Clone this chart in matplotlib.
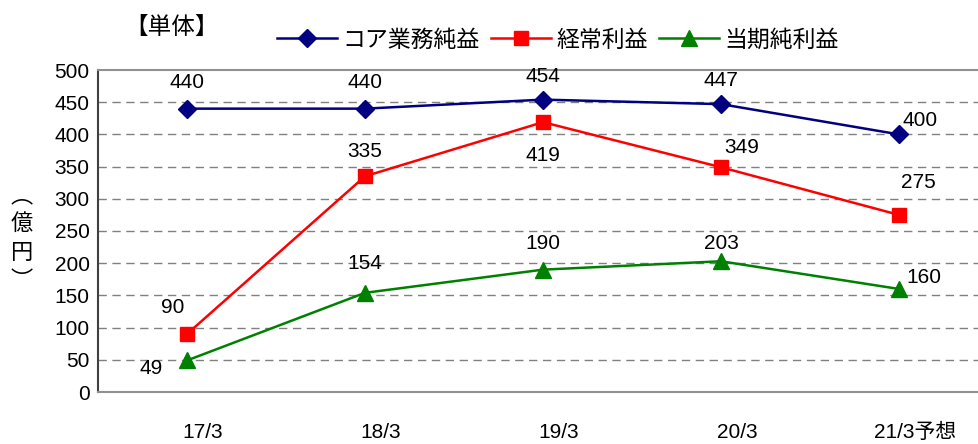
import matplotlib
matplotlib.use("Agg")
import matplotlib.pyplot as plt
from matplotlib.transforms import ScaledTranslation

plt.rcParams['font.family'] = ['Liberation Sans', 'Noto Sans CJK JP', 'DejaVu Sans']

categories = ["17/3", "18/3", "19/3", "20/3", "21/3予想"]
core = [440, 440, 454, 447, 400]
ordinary = [90, 335, 419, 349, 275]
net = [49, 154, 190, 203, 160]
series_names = ["コア業務純益", "経常利益", "当期純利益"]

fig = plt.figure(figsize=(9.79, 4.44), dpi=100)
ax = fig.add_axes([98/979, 1-392/444, 890/979, (392-70)/444])

x = list(range(len(categories)))
l1, = ax.plot(x, core, color="#000080", marker="D", markersize=9, lw=1.8, label=series_names[0])
l2, = ax.plot(x, ordinary, color="#FF0000", marker="s", markersize=10, lw=1.8, label=series_names[1])
l3, = ax.plot(x, net, color="#008000", marker="^", markersize=11, lw=1.8, label=series_names[2])

ax.set_xlim(-0.5, 4.5)
ax.set_ylim(0, 500)
ax.set_yticks(range(0, 501, 50))
ax.set_xticks(x)
ax.set_xticklabels(categories)
ax.tick_params(axis='x', length=0, pad=22, labelsize=15)
ax.tick_params(axis='y', length=0, pad=6, labelsize=15)
for lbl in ax.get_xticklabels():
    lbl.set_transform(lbl.get_transform() + ScaledTranslation(16/100, 0, fig.dpi_scale_trans))

for y in range(50, 500, 50):
    ax.axhline(y, color="#808080", lw=1.0, ls=(0, (6, 4)), zorder=0)

ax.spines["right"].set_visible(False)
ax.spines["top"].set_color("#909090")
ax.spines["top"].set_linewidth(1.5)
ax.spines["bottom"].set_color("#909090")
ax.spines["bottom"].set_linewidth(1.5)
ax.spines["left"].set_color("#404040")
ax.spines["left"].set_linewidth(1.5)

fs = 15
def lab(i, v, dx, dy):
    ax.annotate(str(v), (i, v), xytext=(dx, dy), textcoords="offset points",
                ha="center", va="center", fontsize=fs)

core_off = [(0, 19), (0, 19), (0, 17), (0, 17), (15, 10)]
ord_off = [(-10, 19), (0, 18), (0, -24), (15, 14), (14, 23)]
net_off = [(-26, -6), (0, 21), (0, 19), (0, 13), (18, 8)]
for i in x:
    lab(i, core[i], *core_off[i])
    lab(i, ordinary[i], *ord_off[i])
    lab(i, net[i], *net_off[i])

fig.text(172/979, 1-28/444, "【単体】", ha="center", va="center", fontsize=17)
fig.text(22/979, 1-238/444, "︵\n億\n円\n︶", ha="center", va="center", fontsize=16,
         family=['Noto Sans CJK JP', 'DejaVu Sans'], linespacing=1.3)

fig.legend(handles=[l1, l2, l3], loc="center", bbox_to_anchor=(558/979, 1-40/444), ncol=3,
           frameon=False, fontsize=16.5, handlelength=2.6, columnspacing=0.5, handletextpad=0.25,
           borderpad=0)

fig.savefig("out.png", dpi=100)
